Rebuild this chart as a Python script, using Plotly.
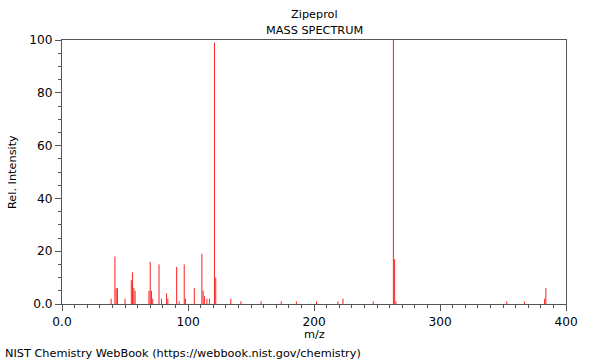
import plotly.graph_objects as go

# Peak data (m/z, relative intensity)
mz = [39, 42, 43, 44, 50, 55, 56, 57, 58, 69, 70, 71, 72, 77, 79, 83, 84,
      91, 93, 97, 98, 105, 111, 112, 113, 115, 117, 121, 122,
      134, 142, 158, 174, 186, 202, 219, 223, 247, 263, 264, 265,
      353, 367, 383, 384]
intensity = [2, 18, 6, 6, 2, 9, 12, 6, 5, 5, 16, 5, 2, 15, 2, 4, 2,
             14, 1, 15, 2, 6, 19, 5, 3, 2, 2, 99, 10,
             2, 1, 1, 1, 1, 1, 1, 2, 1, 100, 17, 1,
             1, 1, 2, 6]

x_tickvals = [0, 100, 200, 300, 400]
x_ticktext = ["0.0", "100", "200", "300", "400"]
y_tickvals = [0, 20, 40, 60, 80, 100]
y_ticktext = ["0.0", "20", "40", "60", "80", "100"]

xs, ys = [], []
for m, v in zip(mz, intensity):
    xs += [m, m, None]
    ys += [0, v, None]

fig = go.Figure()
fig.add_trace(go.Scatter(x=xs, y=ys, mode="lines",
                         line=dict(color="#ff2020", width=1),
                         hoverinfo="skip", showlegend=False))

font = dict(family="DejaVu Sans", size=11.3, color="black")
axis_common = dict(showline=True, linecolor="#555555", linewidth=1, mirror=True,
                   showgrid=False, zeroline=False, ticks="outside",
                   tickcolor="#555555", ticklen=6,
                   tickfont=dict(family="DejaVu Sans", size=12.2, color="black"))

fig.update_xaxes(range=[0, 400], tickvals=x_tickvals, ticktext=x_ticktext,
                 minor=dict(dtick=10, ticks="outside", ticklen=3, tickcolor="#555555"),
                 **axis_common)
fig.update_yaxes(range=[0, 100], tickvals=y_tickvals, ticktext=y_ticktext,
                 minor=dict(dtick=5, ticks="outside", ticklen=3, tickcolor="#555555"),
                 **axis_common)

W, H = 600, 360
L, R, T, B = 62, 34, 40, 56
pw, ph = W - L - R, H - T - B

def px(xp):
    return (xp - L) / pw

def py(yp):
    return (H - B - yp) / ph

annotations = [
    dict(text="Zipeprol", x=px(314), y=py(15)),
    dict(text="MASS SPECTRUM", x=px(314), y=py(30)),
    dict(text="m/z", x=px(314), y=py(334.5)),
    dict(text="Rel. Intensity", x=px(12), y=py(172), textangle=-90),
    dict(text="NIST Chemistry WebBook (https://webbook.nist.gov/chemistry)",
         x=px(3), y=py(353), xanchor="left"),
]
for a in annotations:
    a.setdefault("xanchor", "center")
    a.update(xref="paper", yref="paper", yanchor="middle", showarrow=False,
             font=font)

fig.update_layout(width=W, height=H, autosize=False,
                  margin=dict(l=L, r=R, t=T, b=B),
                  paper_bgcolor="white", plot_bgcolor="white",
                  annotations=annotations)

fig.write_html("out.html",
               config={"displayModeBar": False, "staticPlot": True},
               post_script="document.body.style.margin='0';"
                           "document.body.style.overflow='hidden';")
